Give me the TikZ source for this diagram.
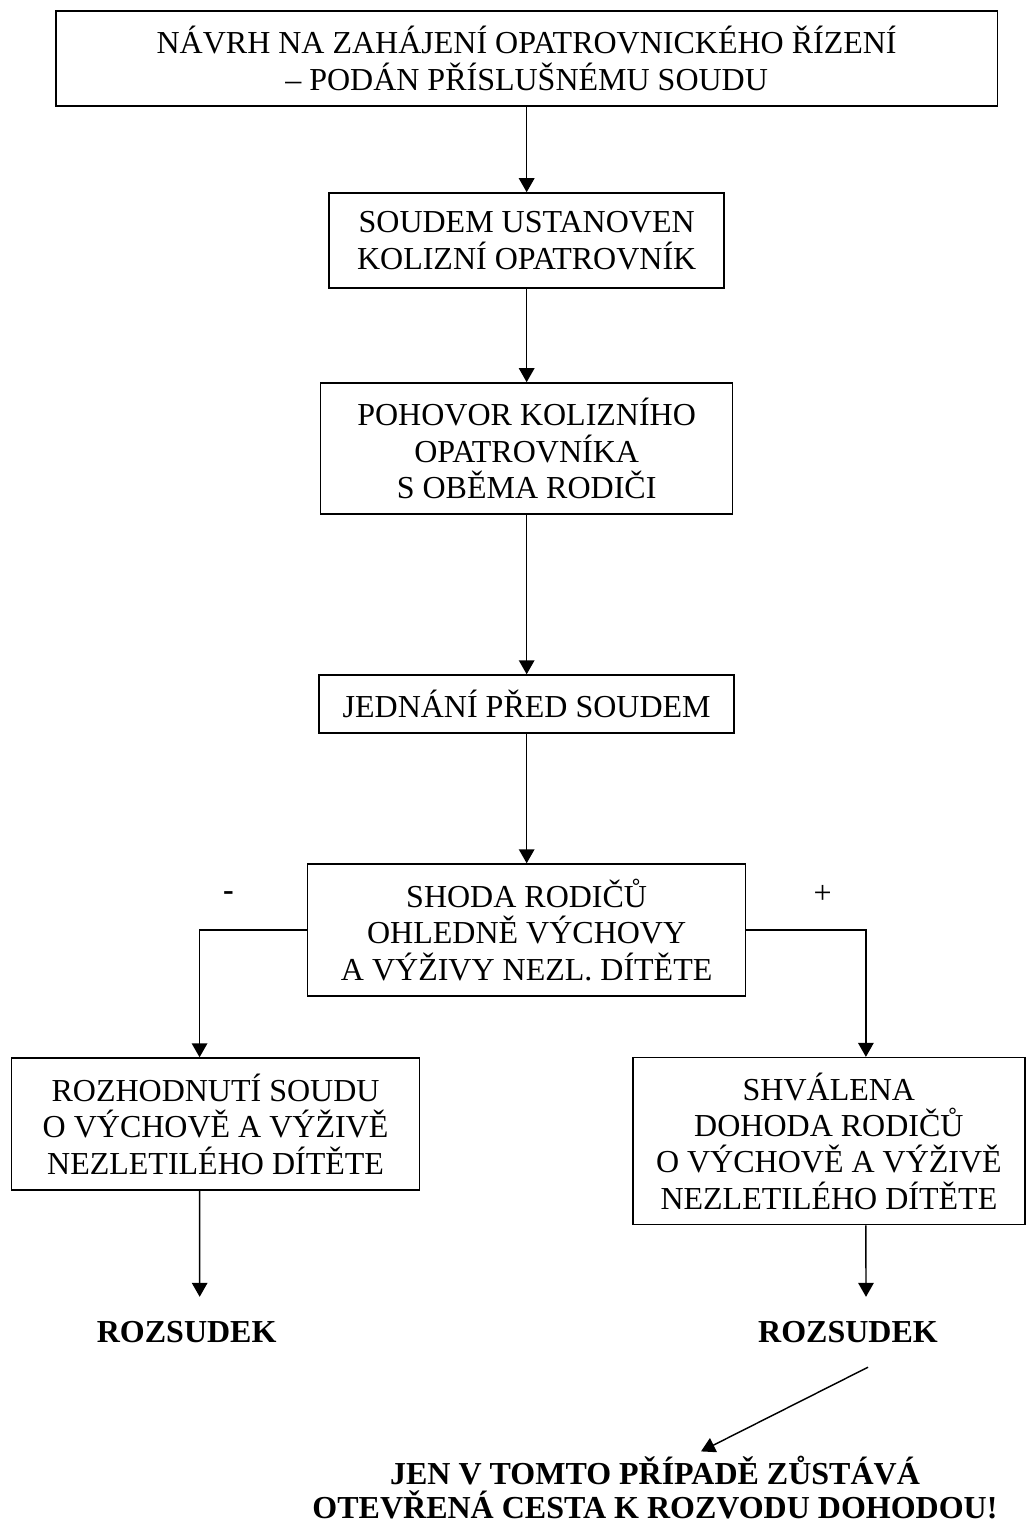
\documentclass[tikz,border=0pt]{standalone}
\usepackage{fontspec}
\setmainfont{Liberation Serif}
\usetikzlibrary{positioning, arrows.meta}

\begin{document}
\begin{tikzpicture}[->,>={Triangle[length=6.3pt,width=7pt]},line width=0.65pt,box/.style={rectangle, draw, align=center, inner sep=0pt},verdict/.style={font=\bfseries, inner sep=0pt, outer sep=11pt}]
		\fontsize{14.4}{16.4}\selectfont
		\useasboundingbox (0,0) rectangle (462.15pt,-686.7pt);
		\node[box, minimum width=423.5pt, minimum height=42.75pt							] (NAVRH) at (237pt,-26.3pt)	{NÁVRH NA ZAHÁJENÍ OPATROVNICKÉHO ŘÍZENÍ\\– PODÁN PŘÍSLUŠNÉMU SOUDU};
		\node[box, minimum width=177.75pt, minimum height=42.75pt, below of=NAVRH, node distance=81.9pt	] (KOLIZNI) 	{SOUDEM USTANOVEN\\KOLIZNÍ OPATROVNÍK};
		\node[box, minimum width=185.4pt, minimum height=59pt, below of=KOLIZNI, node distance=93.6pt		] (POHOVOR) 	{POHOVOR KOLIZNÍHO\\OPATROVNÍKA\\S OBĚMA RODIČI};
		\node[box, minimum width=186.75pt, minimum height=26.1pt, below of=POHOVOR, node distance=115pt	] (JEDNANI) 	{JEDNÁNÍ PŘED SOUDEM};
		\node[box, minimum width=197.1pt, minimum height=59.4pt, below of=JEDNANI, node distance=101.7pt	] (SHODA) 		{SHODA RODIČŮ\\OHLEDNĚ VÝCHOVY\\A VÝŽIVY NEZL. DÍTĚTE};

		\node[box, minimum width=183.6pt, minimum height=59.4pt, below of=SHODA, node distance=87.3pt, xshift=-140pt	] (ROZHODNUTI) 	{ROZHODNUTÍ SOUDU\\O VÝCHOVĚ A VÝŽIVĚ\\NEZLETILÉHO DÍTĚTE};
		\node[box, minimum width=176.4pt, minimum height=75.2pt, below of=SHODA, node distance=95pt, xshift=136pt		] (SCHVALENA) 	{SHVÁLENA\\DOHODA RODIČŮ\\O VÝCHOVĚ A VÝŽIVĚ\\NEZLETILÉHO DÍTĚTE};

		\node[font=\bfseries, left of=SHODA, node distance=134.2pt, yshift=15.5pt	] (MINUS) 	{-};
		\node[right of=SHODA, node distance=133.2pt, yshift=16pt					] (PLUS) 	{+};

		\node[verdict, below of=ROZHODNUTI, node distance=93.6pt, xshift=-13pt	] (RZ_L) 	{ROZSUDEK};
		\node[verdict, below of=SCHVALENA, node distance=85.9pt, xshift=8.6pt	] (RZ_R) 	{ROZSUDEK};
		\node[align=center, font=\bfseries\fontsize{14.4}{15.3}\selectfont, inner sep=0pt, below of=RZ_R, node distance=70.2pt, xshift=-86.85pt] (FINAL) {JEN V TOMTO PŘÍPADĚ ZŮSTÁVÁ\\OTEVŘENÁ CESTA K ROZVODU DOHODOU!};

		\path	(NAVRH)		edge												(KOLIZNI)
				(KOLIZNI)	edge												(POHOVOR)
				(POHOVOR)	edge												(JEDNANI)
				(JEDNANI)	edge												(SHODA)
				(SHODA.west)	edge[to path={-| (\tikztotarget)}]				([xshift=-7.2pt]ROZHODNUTI.north)
				(SHODA.east)	edge[to path={-| (\tikztotarget)}]				([xshift=16.65pt]SCHVALENA.north)
				([xshift=-7.2pt]ROZHODNUTI.south)	edge					([xshift=5.85pt]RZ_L.north)
				([xshift=16.65pt]SCHVALENA.south)	edge					([xshift=8.1pt]RZ_R.north)
				([xshift=9pt]RZ_R.south)			edge					([xshift=20.7pt,yshift=2pt]FINAL.north)
				;

	\end{tikzpicture}
\end{document}
